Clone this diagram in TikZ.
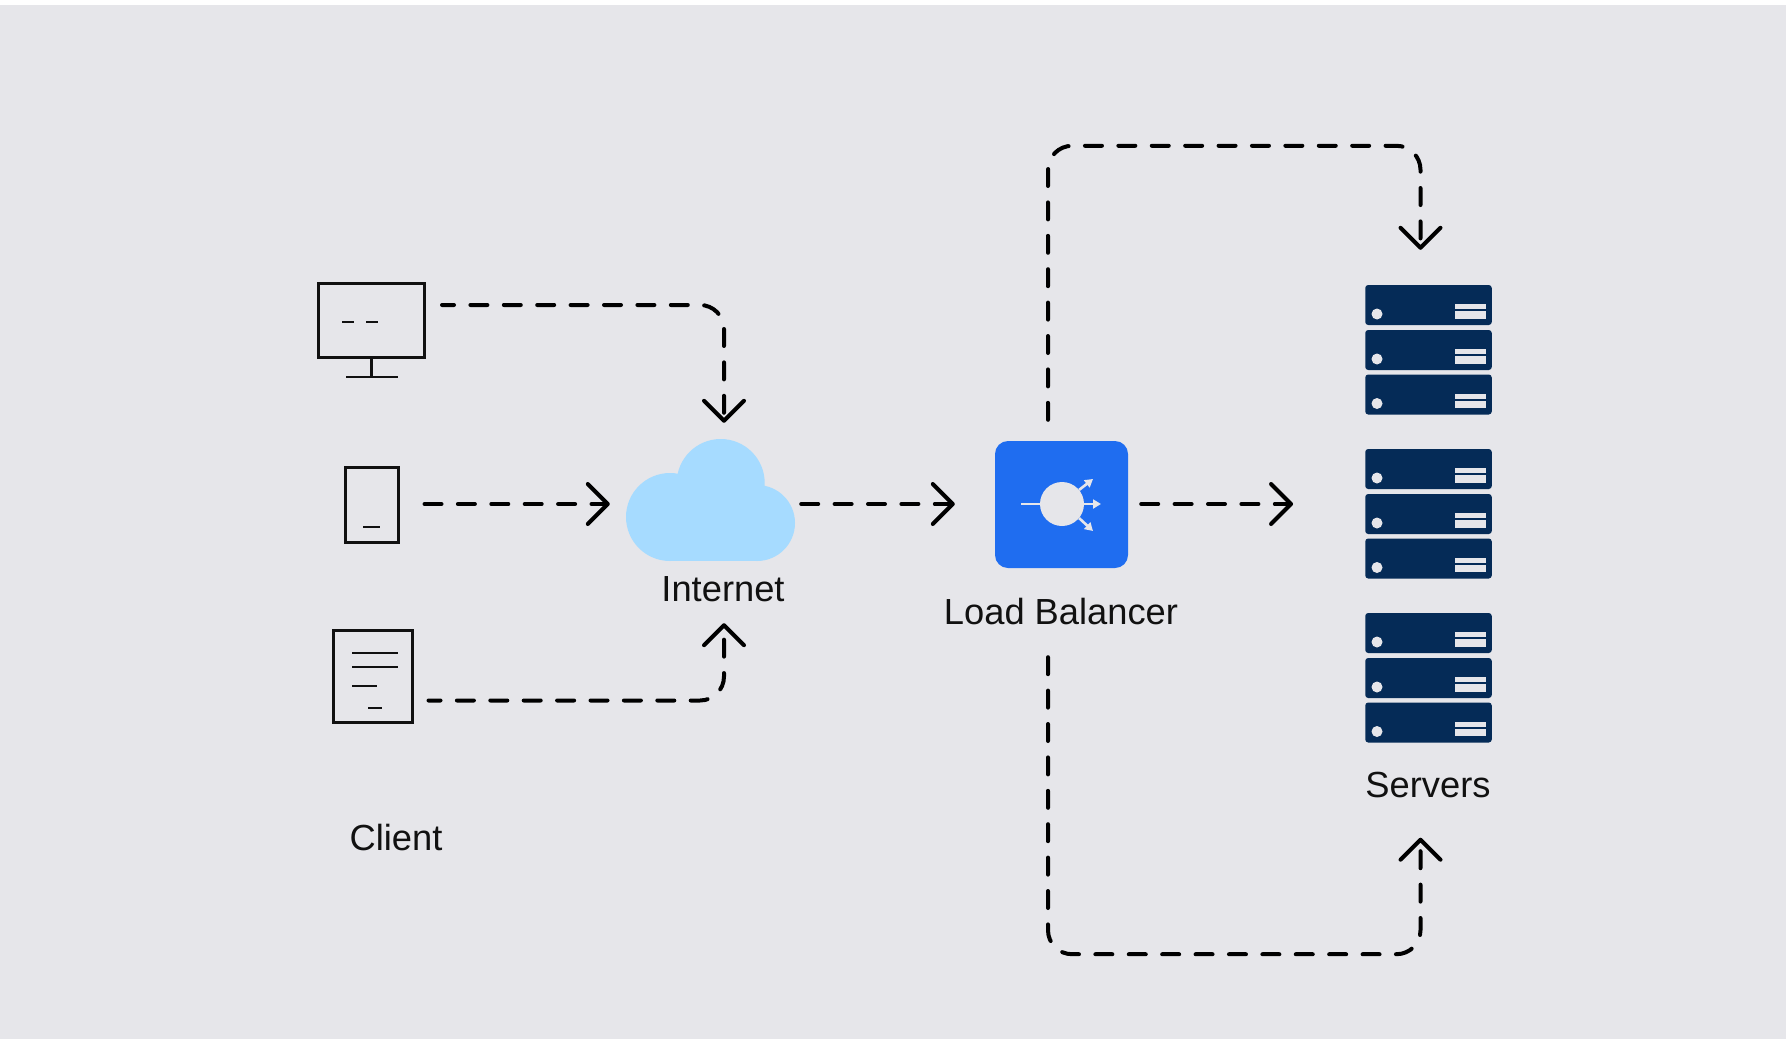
\documentclass[tikz,border=0pt]{standalone}
\usepackage{fontspec}
\setmainfont{Liberation Sans}
\usetikzlibrary{arrows.meta,calc}
\definecolor{bggrey}{HTML}{E6E6EA}
\definecolor{cloudblue}{HTML}{A6DBFF}
\definecolor{lbblue}{HTML}{1F6DF0}
\definecolor{navy}{HTML}{052B57}
\definecolor{ink}{HTML}{111111}
\tikzset{
  x=1pt,y=-1pt,
  flow/.style={line width=4pt,black,line cap=round,rounded corners=24pt,
    dash pattern=on 17pt off 16.4pt,
    -{Straight Barb[length=20pt,width=40pt,line width=4pt,round]}},
  iconbox/.style={draw=ink,line width=3pt,inner sep=0pt,fill=none},
  iconline/.style={draw=ink,line width=2.8pt},
  rack/.style={fill=navy,rounded corners=3pt,inner sep=0pt,minimum width=126.5pt,minimum height=40pt},
  caption/.style={font=\fontsize{36.3}{40}\selectfont,text=ink,inner sep=0pt,anchor=base},
  lbarrow/.style={draw=bggrey,line width=2.6pt,-{Triangle[length=8pt,width=9pt]}},
}
\begin{document}
\begin{tikzpicture}
\useasboundingbox (0,0) rectangle (1786,1039);
\fill[white] (0,0) rectangle (1786,1039);
\fill[bggrey] (0,5) rectangle (1786,1039);

% Client icons
\node[iconbox,minimum width=106pt,minimum height=74pt] (desktop) at (371.5,320.5) {};
\coordinate (stand) at (371.5,377);
\draw[iconline] (desktop.south) -- (stand);
\draw[iconline] (346,377) -- (398,377);
\draw[iconline] (342,322) -- (354,322) (366,322) -- (378,322);

\node[iconbox,minimum width=53pt,minimum height=75pt] (tablet) at (371.5,505) {};
\draw[iconline] (363,527) -- (380,527);

\node[iconbox,minimum width=79pt,minimum height=92pt] (doc) at (372.5,676) {};
\draw[iconline] (352,653) -- (398,653) (352,667) -- (398,667) (352,686) -- (377,686) (368,708) -- (382,708);

% Cloud
\fill[cloudblue] (670,517) circle[radius=44];
\fill[cloudblue] (720.7,483) circle[radius=44];
\fill[cloudblue] (757,523) circle[radius=38];
\fill[cloudblue] (670,480) rectangle (757,561);
\node[inner sep=0pt,minimum width=169pt,minimum height=122pt] (cloud) at (710.5,500) {};

% Load balancer
\node[fill=lbblue,rounded corners=13pt,inner sep=0pt,minimum width=133pt,minimum height=127pt] (lb) at (1061.5,504.5) {};
\fill[bggrey] (1062,504) circle[radius=22];
\draw[bggrey,line width=2.6pt] (1021,504) -- (1042,504);
\draw[lbarrow] (1079,490) -- (1093,479);
\draw[lbarrow] (1084,504) -- (1101,504);
\draw[lbarrow] (1079,518) -- (1093,531);

% Servers
\foreach \sx/\dy in {a/0,b/164,c/328}{
  \foreach \r/\ry in {1/0,2/45,3/89.5}{
    \node[rack] (srv\sx\r) at (1428.5,305+\dy+\ry) {};
    \fill[bggrey] (1377,314+\dy+\ry) circle[radius=5.5];
    \fill[bggrey] (1455,304+\dy+\ry) rectangle (1486,309+\dy+\ry);
    \fill[bggrey] (1455,311+\dy+\ry) rectangle (1486,318.5+\dy+\ry);
  }
}

% Labels
\node[caption] (linternet) at (723,601) {Internet};
\node[caption] (llb) at (1061,624) {Load Balancer};
\node[caption] (lservers) at (1428,797) {Servers};
\node[caption] (lclient) at (396,850) {Client};

% Connectors
\coordinate (sa) at ([xshift=16pt,yshift=15.5pt]desktop.east);
\coordinate (sb) at ([xshift=25pt,yshift=1pt]tablet.east);
\coordinate (sc) at ([xshift=15pt,yshift=-24.5pt]doc.east);
\coordinate (sd) at ([xshift=6pt,yshift=-4pt]cloud.east);
\coordinate (ta) at ([xshift=13.5pt,yshift=16pt]cloud.north);
\coordinate (tb) at ([xshift=-16pt,yshift=-4pt]cloud.west);
\coordinate (tc) at ([xshift=13.5pt,yshift=-62pt]cloud.south);
\coordinate (td) at ([xshift=-40pt,yshift=.5pt]lb.west);
\coordinate (se) at ([xshift=13pt,yshift=.5pt]lb.east);
\coordinate (sf) at ([xshift=-13.5pt,yshift=21pt]lb.north);
\coordinate (sg) at ([xshift=-13.5pt,yshift=-89pt]lb.south);
\coordinate (te) at ([xshift=-72pt,yshift=10pt]srvb2.west);
\coordinate (tf) at ([xshift=-8pt,yshift=35pt]srva1.north);
\coordinate (tg) at ([xshift=-8pt,yshift=-95pt]srvc3.south);
\draw[flow,dash phase=5pt] (sa) -| (ta);
\draw[flow] (sb) -- (tb);
\draw[flow,dash phase=5pt] (sc) -| (tc);
\draw[flow] (sd) -- (td);
\draw[flow] (se) -- (te);
\draw[flow] (sf) |- ($(tf)+(0,-104)$) -- (tf);
\draw[flow] (sg) |- ($(tg)+(0,116.5)$) -- (tg);
\end{tikzpicture}
\end{document}
